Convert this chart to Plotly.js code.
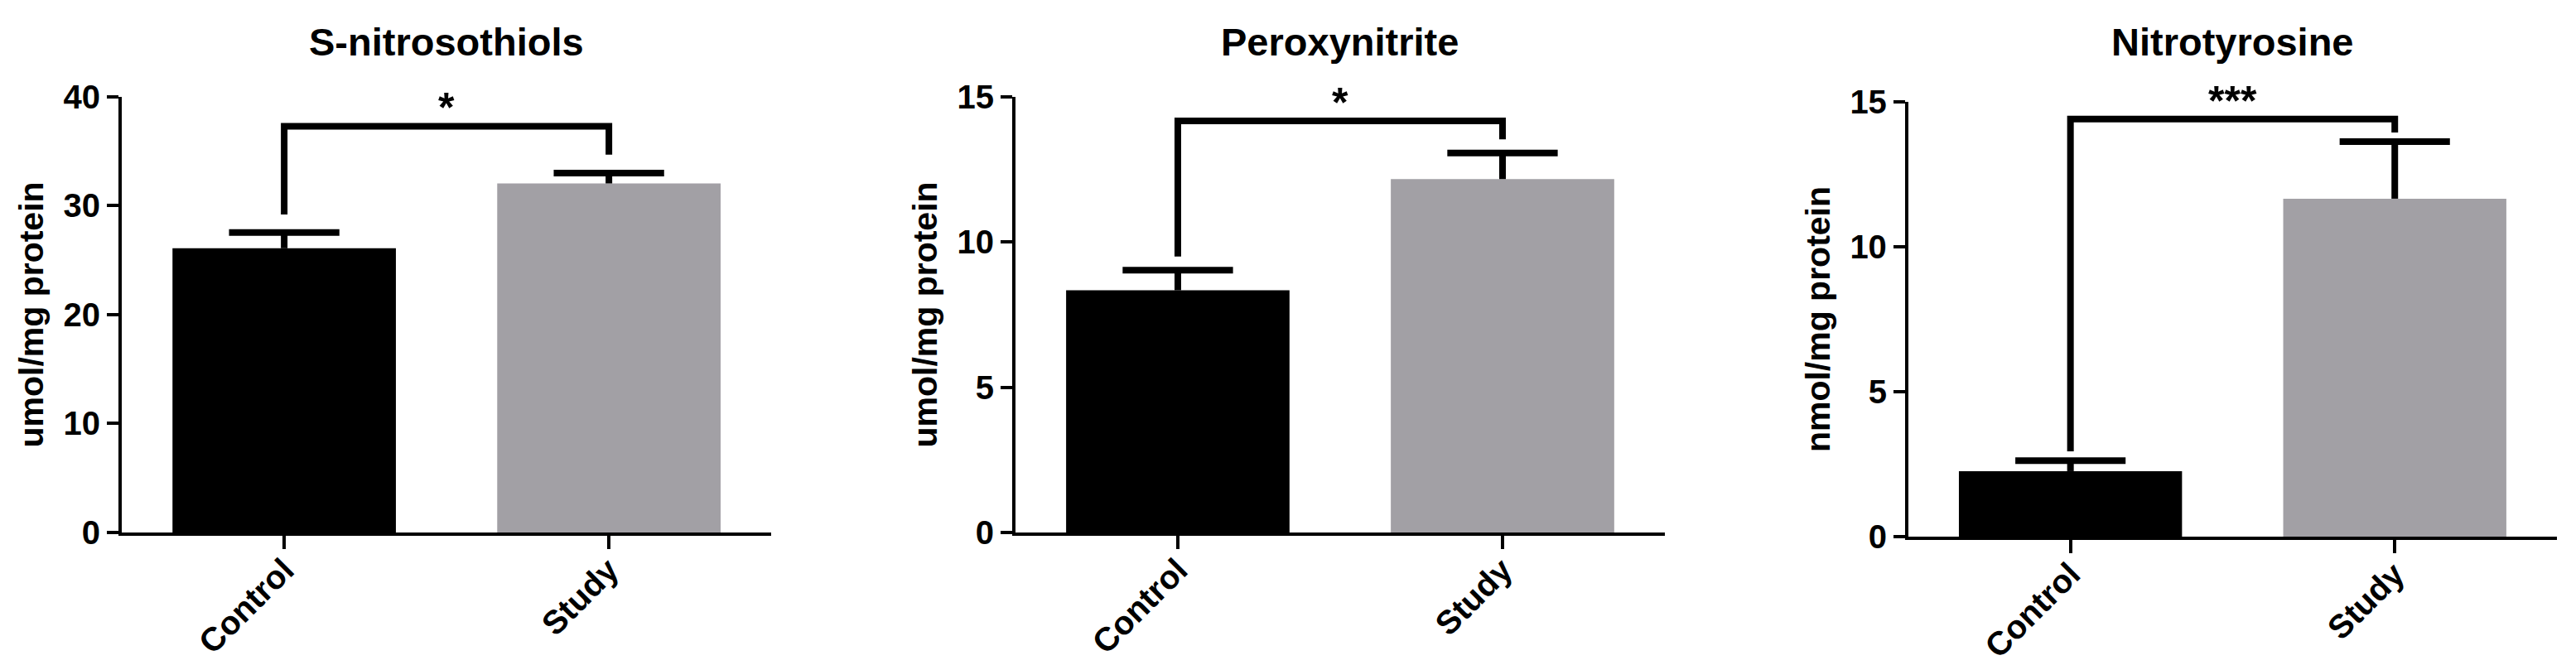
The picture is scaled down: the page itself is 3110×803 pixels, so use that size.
<!DOCTYPE html>
<html>
<head>
<meta charset="utf-8">
<script src="https://cdn.plot.ly/plotly-3.0.1.min.js"></script>
<style>
  html, body { margin: 0; padding: 0; background: #fff; }
  #chart { width: 3110px; height: 803px; }
</style>
</head>
<body>
<div id="chart"></div>
<script>
// groups on the x axis
const groups = ['Control', 'Study'];
const groupIdx = [0, 1];

// bar means and upper error (SEM) per panel
const snoMean = [26.1, 32.05];
const snoErr = [1.45, 0.95];
const peroxMean = [8.34, 12.17];
const peroxErr = [0.69, 0.9];
const ntyrMean = [2.26, 11.66];
const ntyrErr = [0.36, 1.97];

// significance brackets: left leg end, bar height, bar height, right leg end
const bracketX = [0, 0, 1, 1];
const snoBracket = [29.2, 37.3, 37.3, 34.7];
const peroxBracket = [9.5, 14.17, 14.17, 13.54];
const ntyrBracket = [2.94, 14.41, 14.41, 13.94];

// star labels
const stars = ['*', '*', '***'];

const titles = ['S-nitrosothiols', 'Peroxynitrite', 'Nitrotyrosine'];
const yTitles = ['umol/mg protein', 'umol/mg protein', 'nmol/mg protein'];

const barColors = ['#000000', '#a2a0a5'];
const fontFam = 'Liberation Sans, Arial, sans-serif';
const capHalf = 0.17;

function ax(n) { return n === 1 ? '' : String(n); }

function barTrace(mean, n) {
  return {
    type: 'bar',
    x: groupIdx,
    y: mean,
    xaxis: 'x' + ax(n),
    yaxis: 'y' + ax(n),
    marker: { color: barColors, line: { width: 0 } },
    hoverinfo: 'none'
  };
}

// upward-only error bars (stem + top cap)
function errTrace(mean, err, n) {
  const xs = [], ys = [];
  groupIdx.forEach((g, i) => {
    const top = mean[i] + err[i];
    xs.push(g - capHalf, g + capHalf, null, g, g, null);
    ys.push(top, top, null, mean[i], top, null);
  });
  return {
    type: 'scatter',
    mode: 'lines',
    x: xs,
    y: ys,
    xaxis: 'x' + ax(n),
    yaxis: 'y' + ax(n),
    line: { color: '#000', width: 8 },
    cliponaxis: false,
    hoverinfo: 'none'
  };
}

function bracketTrace(yv, n) {
  return {
    type: 'scatter',
    mode: 'lines',
    x: bracketX,
    y: yv,
    xaxis: 'x' + ax(n),
    yaxis: 'y' + ax(n),
    line: { color: '#000', width: 8 },
    cliponaxis: false,
    hoverinfo: 'none'
  };
}

const traces = [
  barTrace(snoMean, 1),
  barTrace(peroxMean, 2),
  barTrace(ntyrMean, 3),
  errTrace(snoMean, snoErr, 1),
  errTrace(peroxMean, peroxErr, 2),
  errTrace(ntyrMean, ntyrErr, 3),
  bracketTrace(snoBracket, 1),
  bracketTrace(peroxBracket, 2),
  bracketTrace(ntyrBracket, 3)
];
const bracketTops = [snoBracket[1], peroxBracket[1], ntyrBracket[1]];

const xDomains = [[0.0473, 0.2994], [0.3942, 0.6463], [0.7408, 0.9926]];
const yDomains = [[0.1993, 0.8543], [0.1993, 0.8543], [0.193, 0.8468]];
const yRanges = [[0, 40], [0, 15], [0, 15]];
const yDticks = [10, 5, 5];

const tickFont = { family: fontFam, size: 40, color: '#000', weight: 'bold' };

const layout = {
  width: 3110,
  height: 803,
  margin: { l: 0, r: 0, t: 0, b: 0 },
  paper_bgcolor: '#fff',
  plot_bgcolor: '#fff',
  showlegend: false,
  bargap: 0.312,
  annotations: []
};

for (let i = 0; i < 3; i++) {
  const s = ax(i + 1);
  layout['xaxis' + s] = {
    domain: xDomains[i],
    anchor: 'y' + s,
    range: [-0.5, 1.5],
    tickmode: 'array',
    tickvals: groupIdx,
    ticktext: groups,
    showgrid: false,
    zeroline: false,
    showline: true,
    linecolor: '#000',
    linewidth: 4,
    ticks: 'outside',
    ticklen: 16,
    tickwidth: 4,
    tickcolor: '#000',
    tickangle: -45,
    ticklabelstandoff: -14,
    tickfont: tickFont,
    fixedrange: true
  };
  layout['yaxis' + s] = {
    domain: yDomains[i],
    anchor: 'x' + s,
    range: yRanges[i],
    dtick: yDticks[i],
    showgrid: false,
    zeroline: false,
    showline: true,
    linecolor: '#000',
    linewidth: 4,
    ticks: 'outside',
    ticklen: 14,
    tickwidth: 4,
    tickcolor: '#000',
    tickfont: tickFont,
    title: {
      text: yTitles[i],
      font: { family: fontFam, size: 41, color: '#000', weight: 'bold' },
      standoff: 12
    },
    fixedrange: true
  };
  // panel title
  layout.annotations.push({
    text: titles[i],
    xref: 'x' + s + ' domain',
    yref: 'paper',
    x: 0.5,
    y: 1 - 50 / 803,
    xanchor: 'center',
    yanchor: 'middle',
    showarrow: false,
    font: { family: fontFam, size: 47, color: '#000', weight: 'bold' }
  });
  // significance stars above the bracket
  layout.annotations.push({
    text: stars[i],
    xref: 'x' + s,
    yref: 'y' + s,
    x: 0.5,
    y: bracketTops[i],
    yshift: -8,
    xanchor: 'center',
    yanchor: 'bottom',
    showarrow: false,
    font: { family: fontFam, size: 50, color: '#000', weight: 'bold' }
  });
}

Plotly.newPlot('chart', traces, layout, { staticPlot: true });
</script>
</body>
</html>
